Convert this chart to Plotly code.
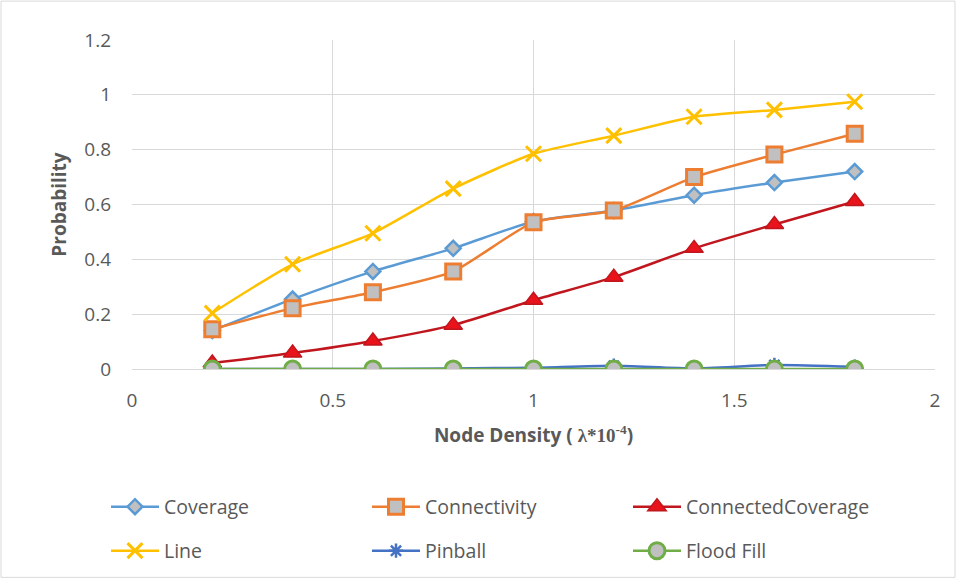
import plotly.graph_objects as go

# Node density values (lambda * 10^-4)
density = [0.2, 0.4, 0.6, 0.8, 1.0, 1.2, 1.4, 1.6, 1.8]

coverage = [0.14, 0.255, 0.356, 0.44, 0.538, 0.578, 0.634, 0.68, 0.72]
connectivity = [0.145, 0.222, 0.28, 0.356, 0.535, 0.578, 0.70, 0.782, 0.858]
connected_coverage = [0.022, 0.058, 0.102, 0.16, 0.251, 0.335, 0.44, 0.527, 0.611]
line_alg = [0.204, 0.382, 0.495, 0.658, 0.785, 0.851, 0.92, 0.945, 0.975]
pinball = [0.0, 0.0, 0.0, 0.002, 0.005, 0.012, 0.002, 0.015, 0.008]
flood_fill = [0.0, 0.0, 0.0, 0.0, 0.0, 0.0, 0.0, 0.0, 0.0]

y_ticks = [0, 0.2, 0.4, 0.6, 0.8, 1.0, 1.2]
y_labels = ["0", "0.2", "0.4", "0.6", "0.8", "1", "1.2"]
x_ticks = [0, 0.5, 1, 1.5, 2]
x_labels = ["0", "0.5", "1", "1.5", "2"]

W, H = 957, 581
ML, MR, MT, MB = 132, 22, 40, 211
FONT = "'Open Sans', Lato, sans-serif"
GREY_TXT = "#595959"
MARKER_FILL = "#C0C0C0"

series = [
    dict(name="Coverage", y=coverage, color="#5B9BD5",
         marker=dict(symbol="diamond", size=11.5, color=MARKER_FILL,
                     line=dict(color="#5B9BD5", width=2.5)), legend="legend"),
    dict(name="Connectivity", y=connectivity, color="#ED7D31",
         marker=dict(symbol="square", size=15, color=MARKER_FILL,
                     line=dict(color="#ED7D31", width=3)), legend="legend"),
    dict(name="ConnectedCoverage", y=connected_coverage, color="#C0161E",
         marker=dict(symbol="triangle-up", size=16, color="#E8131B",
                     line=dict(color="#C0161E", width=1.5)), legend="legend"),
    dict(name="Line", y=line_alg, color="#FFC000",
         marker=dict(symbol="x-thin", size=15, color="#FFC000",
                     line=dict(color="#FFC000", width=3)), legend="legend2"),
    dict(name="Pinball", y=pinball, color="#4472C4",
         marker=dict(symbol="asterisk", size=12, color="#4472C4",
                     line=dict(color="#4472C4", width=2.5)), legend="legend2"),
    dict(name="Flood Fill", y=flood_fill, color="#70AD47",
         marker=dict(symbol="circle", size=16, color=MARKER_FILL,
                     line=dict(color="#70AD47", width=3)), legend="legend2"),
]

fig = go.Figure()
for s in series:
    fig.add_trace(go.Scatter(
        x=density, y=s["y"], name=s["name"], mode="lines+markers",
        line=dict(color=s["color"], width=2.5, shape="spline", smoothing=0.6),
        marker=s["marker"], legend=s["legend"],
    ))

pw = W - ML - MR
ph = H - MT - MB
legend_common = dict(
    orientation="h", xanchor="left", yanchor="middle",
    font=dict(family=FONT, size=19.5, color=GREY_TXT),
    entrywidth=198, entrywidthmode="pixels",
    bgcolor="rgba(0,0,0,0)", itemwidth=48,
)

fig.update_layout(
    width=W, height=H,
    margin=dict(l=ML, r=MR, t=MT, b=MB),
    paper_bgcolor="white", plot_bgcolor="white",
    font=dict(family=FONT, size=19, color=GREY_TXT),
    legend=dict(legend_common, x=(106 - ML) / pw, y=-(507 - MT - ph) / ph),
    legend2=dict(legend_common, x=(106 - ML) / pw, y=-(551 - MT - ph) / ph),
    xaxis=dict(
        range=[0, 2], tickvals=x_ticks, ticktext=x_labels,
        showgrid=True, gridcolor="#D9D9D9", gridwidth=1,
        zeroline=False, showline=True, linecolor="#D9D9D9",
        ticks="", ticklabelstandoff=14,
        tickfont=dict(family=FONT, size=19, color=GREY_TXT),
        title=dict(
            text="<b>Node Density ( <span style='font-family:Liberation Serif'>λ*10<sup>-4</sup></span>)</b>",
            font=dict(family=FONT, size=19, color=GREY_TXT), standoff=16),
    ),
    yaxis=dict(
        range=[0, 1.2], tickvals=y_ticks, ticktext=y_labels,
        showgrid=True, gridcolor="#D9D9D9", gridwidth=1,
        zeroline=False, showline=False,
        ticks="", ticklabelstandoff=20,
        tickfont=dict(family=FONT, size=19, color=GREY_TXT),
        title=dict(text="<b>Probability</b>",
                   font=dict(family=FONT, size=19, color=GREY_TXT), standoff=12),
    ),
)

# outer chart border
fig.add_shape(type="rect", xref="paper", yref="paper",
              x0=-(ML - 1) / pw, x1=1 + (MR - 2) / pw,
              y0=-(MB - 2) / ph, y1=1 + (MT - 1) / ph,
              line=dict(color="#D9D9D9", width=1), layer="below")

fig.write_html("out.html")
